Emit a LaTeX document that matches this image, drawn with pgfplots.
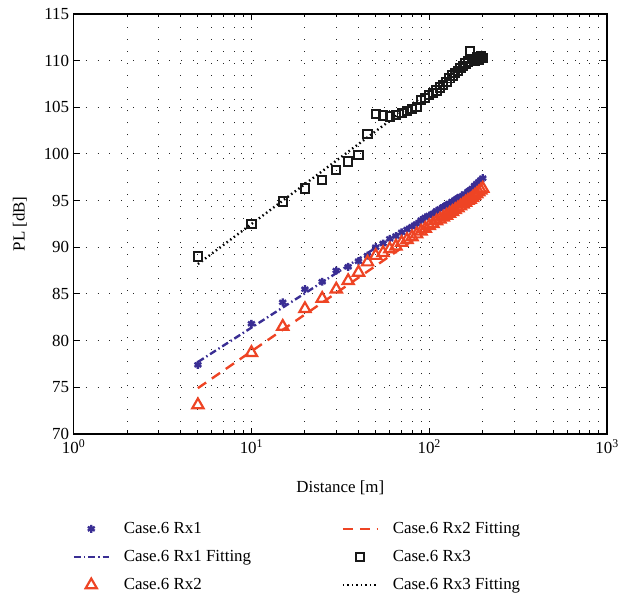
\documentclass[border=0pt]{standalone}
\usepackage{fontspec}
\setmainfont{Liberation Serif}
\usepackage{pgfplots}
\pgfplotsset{compat=1.18}
\definecolor{rxblue}{RGB}{58,46,148}
\definecolor{rxred}{RGB}{238,68,36}

\pgfplotstableread{
d    pl
5    77.4
10   81.8
15   84.1
20   85.5
25   86.3
30   87.5
35   87.9
40   88.5
45   89.1
50   90.0
55   90.4
60   90.9
65   91.2
70   91.6
75   91.9
80   92.2
85   92.5
90   92.9
95   93.2
100  93.4
105  93.6
110  93.9
115  94.1
120  94.3
125  94.5
130  94.7
135  94.9
140  95.0
145  95.2
150  95.4
155  95.5
160  95.7
165  95.9
170  96.1
175  96.3
180  96.6
185  96.8
190  97.0
195  97.2
200  97.4
}\rxone

\pgfplotstableread{
d    pl
5    73.1
10   78.7
15   81.5
20   83.4
25   84.5
30   85.5
35   86.4
40   87.3
45   88.4
50   89.1
55   89.4
60   89.8
65   90.1
70   90.5
75   90.8
80   91.1
85   91.4
90   91.7
95   92.0
100  92.3
105  92.5
110  92.8
115  93.0
120  93.2
125  93.4
130  93.6
135  93.8
140  94.0
145  94.2
150  94.4
155  94.6
160  94.8
165  95.0
170  95.1
175  95.3
180  95.5
185  95.7
190  95.9
195  96.1
200  96.3
}\rxtwo

\pgfplotstableread{
d    pl
5    89.0
10   92.5
15   94.9
20   96.3
25   97.2
30   98.3
35   99.2
40   99.9
45   102.1
50   104.3
55   104.1
60   104.0
65   104.2
70   104.4
75   104.6
80   104.8
85   105.0
90   105.8
95   106.0
100  106.3
105  106.5
110  106.8
115  107.1
120  107.4
125  107.7
130  108.1
135  108.4
140  108.7
145  108.9
150  109.2
155  109.4
160  109.7
165  109.9
170  111.0
175  110.2
180  110.0
185  110.4
190  110.1
195  110.5
200  110.3
}\rxthree

\begin{document}
\begin{tikzpicture}
\begin{semilogxaxis}[
  name=ax,
  scale only axis,
  width=536pt, height=422pt,
  xmin=1, xmax=1000, ymin=70, ymax=115,
  xtick={1,10,100,1000},
  xticklabels={10\textsuperscript{0},10\textsuperscript{1},10\textsuperscript{2},10\textsuperscript{3}},
  ytick={70,75,...,115},
  minor y tick num=0,
  grid=both,
  major grid style={black!85, line width=1pt, dash pattern=on 1pt off 11pt},
  minor grid style={black!85, line width=1pt, dash pattern=on 1pt off 11pt},
  tick align=inside,
  major tick length=6pt, minor tick length=3.5pt,
  tick style={black, line width=1pt},
  axis line style={line width=1.5pt},
  /pgf/number format/assume math mode=true,
  font=\fontsize{17}{20}\selectfont,
  xticklabel style={yshift=-2pt},
  yticklabel style={xshift=-1pt},
  xlabel style={yshift=-20pt},
  ylabel style={yshift=10pt},
  xlabel={Distance [m]},
  ylabel={PL [dB]},
  legend columns=2,
  legend cell align=left,
  legend image code/.code={%
    \draw[mark repeat=2,mark phase=2,#1] plot coordinates {(0pt,0pt) (17.5pt,0pt) (35pt,0pt)};},
  legend style={
    draw=none, fill=none, inner sep=0pt, outer sep=0pt,
    at={(axis description cs:0,0)}, anchor=north west,
    yshift=-87pt, xshift=-1pt,
    font=\fontsize{17}{20}\selectfont,
    row sep=11.5pt,
    /tikz/every odd column/.append style={column sep=12pt},
    /tikz/every even column/.append style={column sep=89pt},
  },
]
\addplot[only marks, rxblue, mark=asterisk, mark size=4pt, line width=2.4pt] table[x=d, y=pl] {\rxone};
\addlegendentry{Case.6 Rx1}
\addplot[rxred, line width=2.4pt, dash pattern=on 10pt off 7pt] coordinates {(5,74.9) (200,95.9)};
\addlegendentry{Case.6 Rx2 Fitting}
\addplot[rxblue, line width=2.4pt, dash pattern=on 7pt off 3pt on 1.5pt off 3pt] coordinates {(5,77.7) (200,97.3)};
\addlegendentry{Case.6 Rx1 Fitting}
\addplot[only marks, black!90, mark=square, mark size=4.2pt, line width=2pt] table[x=d, y=pl] {\rxthree};
\addlegendentry{Case.6 Rx3}
\addplot[only marks, rxred, mark=triangle, mark size=6.5pt, line width=2.2pt] table[x=d, y=pl] {\rxtwo};
\addlegendentry{Case.6 Rx2}
\addplot[black, line width=2.4pt, dash pattern=on 1.5pt off 3pt] coordinates {(5,88.2) (200,111.0)};
\addlegendentry{Case.6 Rx3 Fitting}
\end{semilogxaxis}
\path (ax.south west) ++(-74pt,-163pt) rectangle ++(622pt,599pt);
\end{tikzpicture}
\end{document}
